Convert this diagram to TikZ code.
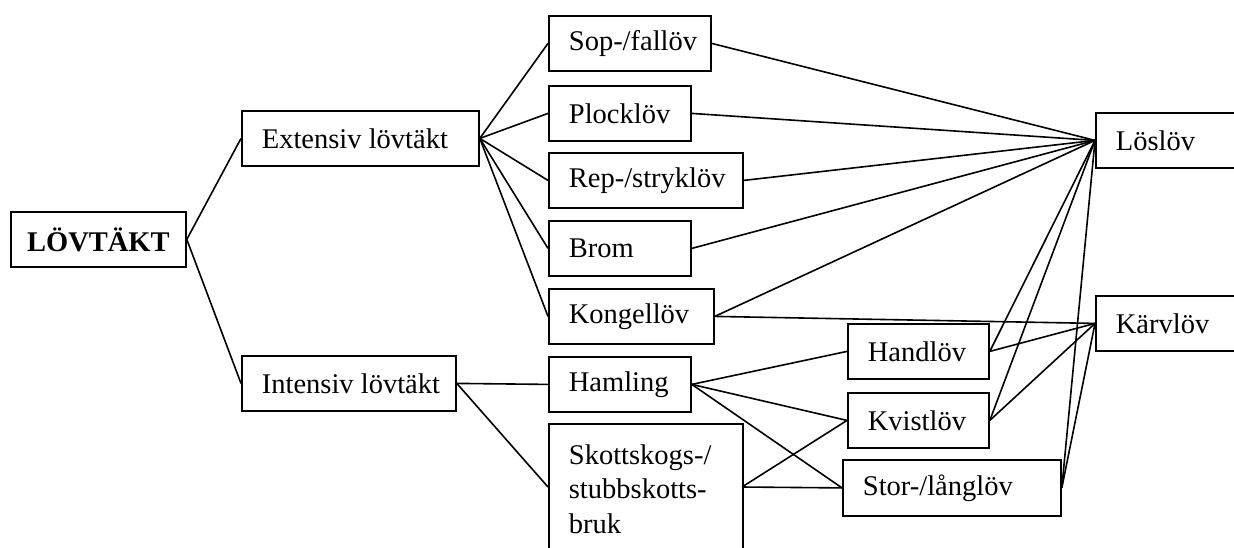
\documentclass[tikz,border=0pt]{standalone}
\usepackage{fontspec}
\setmainfont{Liberation Serif}
\newcommand{\lbl}[2]{\makebox[#1pt][l]{#2}}
\begin{document}
\begin{tikzpicture}[x=1pt,y=-1pt,
  box/.style={draw, line width=1.8pt, anchor=north west, inner xsep=20pt, inner ysep=0pt,
    minimum height=55pt, font=\fontsize{28.5}{34.5}\selectfont},
  conn/.style={line width=1.6pt}]
\useasboundingbox (0,0) rectangle (1234,547);
\clip (0,0) rectangle (1234,547);
\fill[white] (0,0) rectangle (1234,547);
% level 0
\node[box, inner xsep=14pt, font=\fontsize{28.5}{34.5}\selectfont\bfseries] (lov) at (10,211) {\makebox[147pt]{LÖVTÄKT}};
% level 1
\node[box] (ext) at (241,110) {\lbl{197}{Extensiv lövtäkt}};
\node[box] (int) at (241,355) {\lbl{174}{Intensiv lövtäkt}};
% level 2
\node[box] (sop) at (548,15) {\lbl{122}{Sop-/fallöv}};
\node[box] (plock) at (548,85) {\lbl{102}{Plocklöv}};
\node[box] (rep) at (548,152) {\lbl{154}{Rep-/stryklöv}};
\node[box] (brom) at (548,220) {\lbl{102}{Brom}};
\node[box] (kong) at (548,288) {\lbl{125}{Kongellöv}};
\node[box] (haml) at (548,356) {\lbl{102}{Hamling}};
\node[box, minimum height=130pt, align=left, text width=154pt] (skott) at (548,423) {Skottskogs-/\\stubbskotts-\\bruk};
\coordinate (skL) at (548,487);
\coordinate (skR) at (742,487);
% level 3
\node[box] (hand) at (847,323) {\lbl{101}{Handlöv}};
\node[box] (kvist) at (847,392) {\lbl{101}{Kvistlöv}};
\node[box, minimum height=56pt] (stor) at (842,459) {\lbl{178}{Stor-/långlöv}};
% level 4
\node[box] (los) at (1095,112) {\lbl{120}{Löslöv}};
\node[box] (karv) at (1095,295) {\lbl{120}{Kärvlöv}};
% connectors
\draw[conn] (lov.east) -- (ext.west);
\draw[conn] (lov.east) -- (int.west);
\foreach \n in {sop,plock,rep,brom,kong} \draw[conn] (ext.east) -- (\n.west);
\draw[conn] (int.east) -- (haml.west);
\draw[conn] (int.east) -- (skL);
\foreach \n in {sop,plock,rep,brom,kong} \draw[conn] (\n.east) -- (los.west);
\draw[conn] (kong.east) -- (karv.west);
\draw[conn] (haml.east) -- (hand.west);
\draw[conn] (haml.east) -- (kvist.west);
\draw[conn] (haml.east) -- (stor.west);
\draw[conn] (skR) -- (kvist.west);
\draw[conn] (skR) -- (stor.west);
\foreach \n in {hand,kvist,stor} {
  \draw[conn] (\n.east) -- (los.west);
  \draw[conn] (\n.east) -- (karv.west);
}
\end{tikzpicture}
\end{document}
